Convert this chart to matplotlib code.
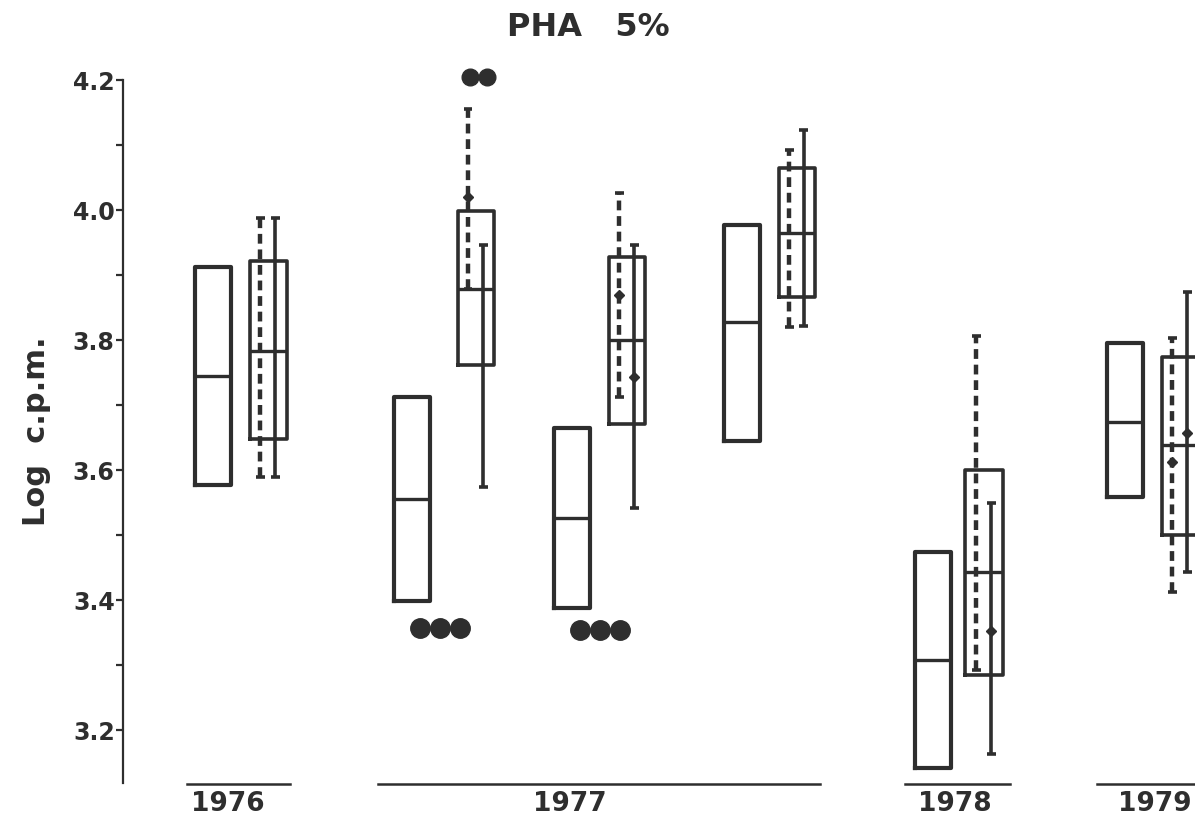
import numpy as np
import matplotlib
matplotlib.use("Agg")
import matplotlib.pyplot as plt
from matplotlib.ticker import MultipleLocator, FormatStrFormatter

# --- data (log c.p.m.) ---
groups = ["1976", "1977", "1978", "1979"]

# plain boxes (left of each pair): q1, median, q3
left_q1 = [3.577, 3.398, 3.388, 3.645, 3.142, 3.558]
left_med = [3.745, 3.555, 3.526, 3.828, 3.308, 3.674]
left_q3 = [3.912, 3.712, 3.665, 3.977, 3.474, 3.795]

# composite boxes (right of each pair)
right_q1 = [3.648, 3.762, 3.671, 3.866, 3.285, 3.500]
right_med = [3.783, 3.878, 3.800, 3.965, 3.443, 3.638]
right_q3 = [3.922, 3.998, 3.928, 4.065, 3.600, 3.774]

# dashed ranges inside composite boxes
dash_lo = [3.589, 3.878, 3.712, 3.820, 3.292, 3.412]
dash_hi = [3.988, 4.155, 4.026, 4.092, 3.806, 3.803]
dash_mark = [None, 4.020, 3.869, None, None, 3.612]

# solid ranges inside composite boxes
solid_lo = [3.589, 3.574, 3.541, 3.822, 3.163, 3.443]
solid_hi = [3.988, 3.946, 3.946, 4.123, 3.549, 3.874]
solid_mark = [None, None, 3.743, None, 3.352, 3.657]

# outlying points (value, number of dots)
low_dots = [None, (3.357, 3), (3.354, 3), None, None, None]
high_dots = [None, (4.205, 2), None, None, None, None]

# layout
left_pos = [2.13, 4.12, 5.72, 7.42, 9.33, 11.25]
right_pos = [2.68, 4.76, 6.27, 7.97, 9.84, 11.80]
group_span = [(1.87, 2.90), (3.78, 8.20), (9.05, 10.10), (10.97, 12.2)]
group_mid = [2.28, 5.70, 9.55, 11.55]

ink = "#2e2e2e"

fig = plt.figure(figsize=(11.95, 8.24), dpi=100)
ax = fig.add_axes([123 / 1195, 1 - 783 / 824, 1 - 123 / 1195, (783 - 80) / 824])

# plain boxes
left_stats = [dict(q1=a, med=m, q3=b, whislo=a, whishi=b, fliers=[])
              for a, m, b in zip(left_q1, left_med, left_q3)]
ax.bxp(left_stats, positions=left_pos, widths=0.36, showcaps=False,
       boxprops=dict(color=ink, linewidth=3.0, solid_joinstyle="round"),
       medianprops=dict(color=ink, linewidth=2.4),
       whiskerprops=dict(linewidth=0), manage_ticks=False)

# composite boxes
right_stats = [dict(q1=a, med=m, q3=b, whislo=a, whishi=b, fliers=[])
               for a, m, b in zip(right_q1, right_med, right_q3)]
ax.bxp(right_stats, positions=right_pos, widths=0.37, showcaps=False,
       boxprops=dict(color=ink, linewidth=2.6, solid_joinstyle="round"),
       medianprops=dict(color=ink, linewidth=2.4),
       whiskerprops=dict(linewidth=0), manage_ticks=False)

for i, p in enumerate(right_pos):
    xd = p - 0.08
    xs = p + 0.07
    ax.vlines(xd, dash_lo[i], dash_hi[i], color=ink, linewidth=3.2,
              linestyles=(0, (2.2, 1.3)), clip_on=False)
    ax.hlines([dash_lo[i], dash_hi[i]], xd - 0.045, xd + 0.045, color=ink,
              linewidth=2.6, clip_on=False)
    ax.vlines(xs, solid_lo[i], solid_hi[i], color=ink, linewidth=2.6, clip_on=False)
    ax.hlines([solid_lo[i], solid_hi[i]], xs - 0.045, xs + 0.045, color=ink,
              linewidth=2.6, clip_on=False)
    if dash_mark[i] is not None:
        ax.plot(xd, dash_mark[i], marker="D", ms=5, color=ink, clip_on=False)
    if solid_mark[i] is not None:
        ax.plot(xs, solid_mark[i], marker="D", ms=5, color=ink, clip_on=False)

for i in range(len(left_pos)):
    if low_dots[i] is not None:
        v, n = low_dots[i]
        xs = left_pos[i] + 0.08 + 0.2 * np.arange(n)
        ax.plot(xs, [v] * n, "o", ms=14, color=ink, clip_on=False)
    if high_dots[i] is not None:
        v, n = high_dots[i]
        xs = right_pos[i] - 0.06 + 0.17 * np.arange(n)
        ax.plot(xs, [v] * n, "o", ms=12, color=ink, clip_on=False)

ax.set_xlim(1.23, 11.95)
ax.set_ylim(3.1185, 4.2)

for s in ["top", "right", "bottom"]:
    ax.spines[s].set_visible(False)
ax.spines["left"].set_linewidth(1.6)
ax.spines["left"].set_color(ink)
ax.set_xticks([])
ax.yaxis.set_major_locator(MultipleLocator(0.2))
ax.yaxis.set_minor_locator(MultipleLocator(0.1))
ax.yaxis.set_major_formatter(FormatStrFormatter("%.1f"))
ax.tick_params(axis="y", which="both", direction="out", length=5, width=1.6,
               color=ink, pad=1)
for lab in ax.get_yticklabels():
    lab.set_fontsize(17)
    lab.set_fontweight("bold")
    lab.set_color(ink)

ax.set_ylabel("Log  c.p.m.", fontsize=22, fontweight="bold", color=ink, labelpad=16)

# year brackets under the axis
trans = ax.get_xaxis_transform()
for (a, b), mid, g in zip(group_span, group_mid, groups):
    ax.plot([a, b], [-0.002, -0.002], color=ink, linewidth=1.8,
            transform=trans, clip_on=False)
    ax.text(mid, -0.012, g, transform=trans, ha="center", va="top",
            fontsize=19, fontweight="bold", color=ink,
            family=["Liberation Sans Narrow", "DejaVu Sans"])

fig.text(588 / 1195, 1 - 28 / 824, "PHA   5%", ha="center", va="center",
         fontsize=23, fontweight="bold", color=ink)

fig.savefig("out.png", dpi=100)
